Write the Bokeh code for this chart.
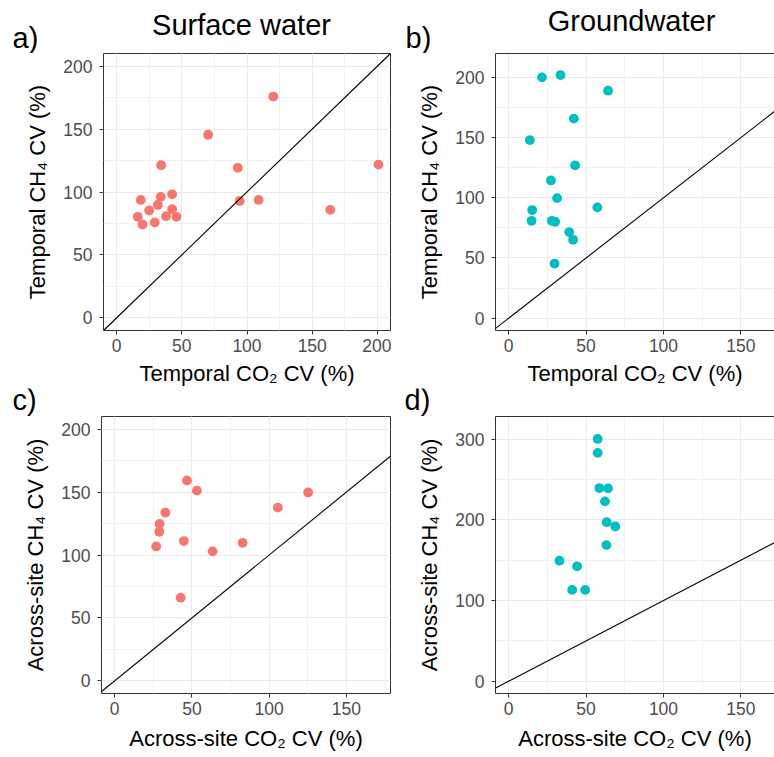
from bokeh.plotting import figure
from bokeh.models import Range1d, SingleIntervalTicker, FixedTicker, Slope, Label, LinearAxis
from bokeh.layouts import row, column
from bokeh.embed import file_html
from bokeh.resources import INLINE

# ---- data ----
sw_temporal_co2 = [120.2, 70.2, 34.2, 92.9, 200.8, 18.6, 33.9, 42.6, 31.6, 25.0,
                   42.6, 16.3, 38.0, 45.9, 19.9, 29.3, 94.4, 108.9, 163.8]
sw_temporal_ch4 = [175.8, 145.5, 121.3, 119.2, 121.8, 93.7, 96.1, 98.2, 89.7, 85.3,
                   86.3, 80.3, 80.8, 80.3, 74.2, 75.8, 92.9, 93.7, 85.8]

gw_temporal_co2 = [21.5, 33.5, 64.2, 42.1, 13.7, 42.9, 27.3, 31.3, 15.2, 57.3,
                   14.8, 27.9, 30.0, 39.1, 41.6, 29.6]
gw_temporal_ch4 = [200.0, 201.9, 188.9, 165.7, 147.9, 126.9, 114.4, 99.7, 89.8, 92.0,
                   80.9, 80.9, 80.1, 71.5, 65.1, 45.4]

sw_site_co2 = [46.8, 53.2, 125.2, 105.6, 32.8, 29.1, 28.9, 44.8, 82.8, 26.9, 63.4, 42.7]
sw_site_ch4 = [159.2, 151.1, 149.7, 137.6, 133.7, 124.7, 118.4, 111.1, 109.7, 106.8, 102.9, 66.1]

gw_site_co2 = [57.5, 57.5, 58.6, 64.2, 62.2, 63.3, 68.9, 63.1, 32.8, 44.2, 41.0, 49.4]
gw_site_ch4 = [300.4, 283.1, 239.5, 239.1, 223.0, 197.1, 191.8, 168.7, 149.4, 142.4, 113.2, 113.2]

column_titles = ["Surface water", "Groundwater"]
panel_tags = ["a)", "b)", "c)", "d)"]
x_labels = ["Temporal CO\u2082 CV (%)", "Across-site CO\u2082 CV (%)"]
y_labels = ["Temporal CH\u2084 CV (%)", "Across-site CH\u2084 CV (%)"]

RED = "#F8766D"
CYAN = "#00BFC4"
FONT = "Liberation Sans"
TOTAL_W = 774
LW, RW = 391, 383


def make_panel(x, y, color, xr, yr, y_int, width, height, mbl, mbr, mbb,
               xlabel, ylabel, xlab_standoff, outline=True):
    p = figure(width=width, height=height, output_backend="svg", toolbar_location=None,
               x_range=Range1d(*xr), y_range=Range1d(*yr),
               min_border_left=mbl, min_border_right=mbr,
               min_border_top=0, min_border_bottom=mbb)
    p.background_fill_color = "white"
    p.border_fill_color = "white"
    p.xaxis.ticker = SingleIntervalTicker(interval=50, num_minor_ticks=2)
    p.yaxis.ticker = SingleIntervalTicker(interval=y_int, num_minor_ticks=2)
    for g in (p.xgrid, p.ygrid):
        g.grid_line_color = "#EBEBEB"
        g.grid_line_width = 1.1
        g.minor_grid_line_color = "#F2F2F2"
        g.minor_grid_line_width = 1
    p.xaxis.axis_label = xlabel
    p.yaxis.axis_label = ylabel
    for ax in (p.xaxis, p.yaxis):
        ax.axis_label_text_font = FONT
        ax.axis_label_text_font_size = "22px"
        ax.axis_label_text_font_style = "normal"
        ax.axis_label_text_color = "black"
        ax.major_label_text_font = FONT
        ax.major_label_text_font_size = "17.5px"
        ax.major_label_text_color = "#4D4D4D"
        ax.major_tick_line_color = "#333333"
        ax.major_tick_out = 4
        ax.major_tick_in = 0
        ax.minor_tick_line_color = None
        ax.axis_line_color = None if outline else "#333333"
    p.xaxis.major_label_standoff = 4
    p.xaxis.axis_label_standoff = xlab_standoff
    p.yaxis.major_label_standoff = 7
    p.yaxis.axis_label_standoff = 10
    if outline:
        p.outline_line_color = "#333333"
        p.outline_line_width = 1
    else:
        p.outline_line_color = None
        top = LinearAxis(ticker=FixedTicker(ticks=[]), major_tick_line_color=None,
                         major_tick_out=0, major_tick_in=0,
                         minor_tick_line_color=None, minor_tick_out=0,
                         axis_line_color="#333333", major_label_standoff=0)
        p.add_layout(top, "above")
    p.add_layout(Slope(gradient=1, y_intercept=0, line_color="black", line_width=1.1))
    p.scatter(x, y, size=9.8, fill_color=color, line_color=None)
    return p


def make_header(height):
    h = figure(width=TOTAL_W, height=height, output_backend="svg", toolbar_location=None,
               x_range=Range1d(0, TOTAL_W), y_range=Range1d(height, 0),
               x_axis_type=None, y_axis_type=None,
               min_border_left=0, min_border_right=0, min_border_top=0, min_border_bottom=0)
    h.grid.visible = False
    h.outline_line_color = None
    h.background_fill_color = "white"
    h.border_fill_color = "white"
    return h


SHIFT = 10.5  # compensation for the label anchor offset


def add_text(h, txt, x, y, align="left"):
    h.add_layout(Label(x=x, y=y - SHIFT, text=txt, text_font=FONT, text_font_size="29px",
                       text_align=align, text_baseline="alphabetic", text_color="black"))


head1 = make_header(53)
add_text(head1, column_titles[0], 241, 35, align="center")
add_text(head1, column_titles[1], 631, 31, align="center")
add_text(head1, panel_tags[0], 12, 47.5)
add_text(head1, panel_tags[1], 405, 48)

head2 = make_header(28)
add_text(head2, panel_tags[2], 12, 22)
add_text(head2, panel_tags[3], 404, 22)

pa = make_panel(sw_temporal_co2, sw_temporal_ch4, RED, (-10, 210), (-10, 210), 50,
                LW, 335, 103, 1, 58, x_labels[0], y_labels[0], 6)
pb = make_panel(gw_temporal_co2, gw_temporal_ch4, CYAN, (-8.5, 171.7), (-10.2, 219.8), 50,
                RW, 335, 104, 0, 58, x_labels[0], y_labels[0], 6, outline=False)
pc = make_panel(sw_site_co2, sw_site_ch4, RED, (-8.5, 178.5), (-10, 210), 50,
                LW, 341, 101, 1, 64, x_labels[1], y_labels[1], 8)
pd = make_panel(gw_site_co2, gw_site_ch4, CYAN, (-8.5, 171.7), (-15.3, 328.2), 100,
                RW, 341, 104, 0, 64, x_labels[1], y_labels[1], 8, outline=False)

layout = column(head1, row(pa, pb), head2, row(pc, pd))
open("out.html", "w").write(file_html(layout, INLINE))
